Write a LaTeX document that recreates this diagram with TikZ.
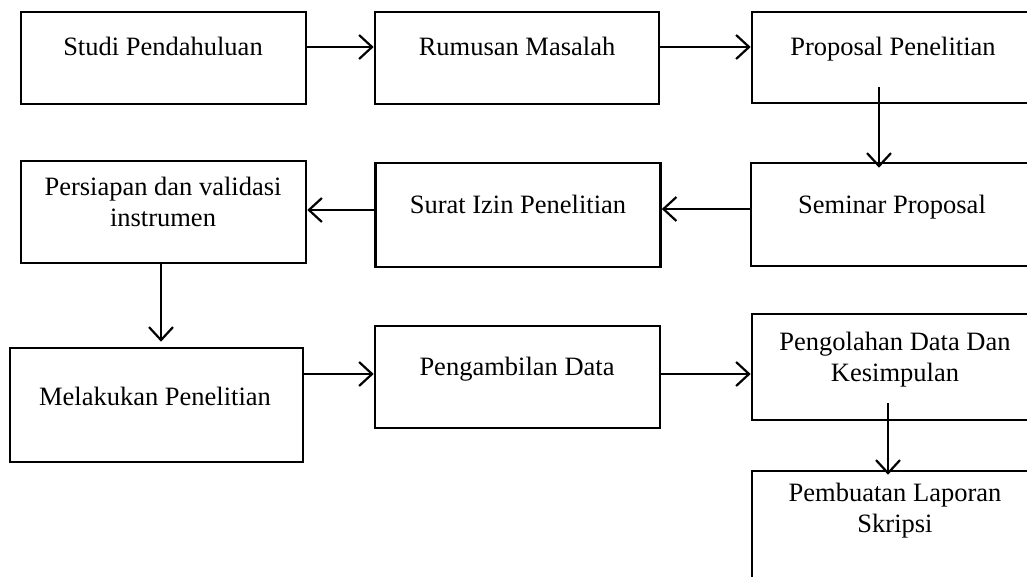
\documentclass[tikz,border=0pt]{standalone}
\usepackage{fontspec}
\setmainfont{Liberation Serif}
\usetikzlibrary{arrows.meta}
\tikzset{
  flow/.style={-{Straight Barb[length=13pt,width=24pt]},line width=2.2pt,draw=black},
  stepbox/.style={draw=black,line width=2.6pt,inner sep=0pt},
  steptext/.style={font=\fontsize{26.5}{30.5}\selectfont,align=center,inner sep=0pt,anchor=base}
}
\begin{document}
\begin{tikzpicture}[x=1pt,y=-1pt]
  \path[use as bounding box,fill=white] (0,0) rectangle (1027,576);
  \clip (0,0) rectangle (1027,576);
  % boxes
  \node[stepbox,minimum width=285pt,minimum height=92pt] (studi) at (163.5,58) {};
  \node[stepbox,minimum width=284pt,minimum height=92pt] (rumusan) at (517,58) {};
  \node[stepbox,minimum width=282pt,minimum height=91pt] (proposal) at (893,57.5) {};
  \node[stepbox,minimum width=283pt,minimum height=103pt] (seminar) at (892.5,214.5) {};
  \node[stepbox,minimum width=285pt,minimum height=104pt] (surat) at (518,215) {};
  \node[stepbox,minimum width=285pt,minimum height=102pt] (persiapan) at (163.5,212) {};
  \node[stepbox,minimum width=293pt,minimum height=114pt] (melakukan) at (156.5,405) {};
  \node[stepbox,minimum width=285pt,minimum height=102pt] (pengambilan) at (517.5,377) {};
  \node[stepbox,minimum width=282pt,minimum height=106pt] (pengolahan) at (893,367) {};
  \node[stepbox,minimum width=282pt,minimum height=140pt] (laporan) at (893,541) {};
  % texts (base = last line)
  \node[steptext] (tstudi) at (163,55) {Studi Pendahuluan};
  \node[steptext] (trumusan) at (517,55) {Rumusan Masalah};
  \node[steptext] (tproposal) at (893,55) {Proposal Penelitian};
  \node[steptext] (tseminar) at (892,213) {Seminar Proposal};
  \node[steptext] (tsurat) at (518,213) {Surat Izin Penelitian};
  \node[steptext] (tpersiapan) at (163,226) {Persiapan dan validasi\\instrumen};
  \node[steptext] (tmelakukan) at (155,405) {Melakukan Penelitian};
  \node[steptext] (tpengambilan) at (517,375) {Pengambilan Data};
  \node[steptext] (tpengolahan) at (895,381) {Pengolahan Data Dan\\Kesimpulan};
  \node[steptext] (tlaporan) at (895,532) {Pembuatan Laporan\\Skripsi};
  % arrows
  \draw[flow] ([yshift=11pt]studi.east) -- ([yshift=11pt]studi.east -| rumusan.west);
  \draw[flow] ([yshift=11pt]rumusan.east) -- ([yshift=11pt]rumusan.east -| proposal.west);
  \draw[flow,shorten >=-6pt] ([xshift=-14pt,yshift=17pt]proposal.south) -- ([xshift=-14pt]proposal.south |- seminar.north);
  \draw[flow] ([yshift=5.5pt]seminar.west) -- ([yshift=5.5pt]seminar.west -| surat.east);
  \draw[flow] ([yshift=5pt]surat.west) -- ([yshift=5pt]surat.west -| persiapan.east);
  \draw[flow,shorten >=5pt] ([xshift=-2.5pt]persiapan.south) -- ([xshift=-2.5pt]persiapan.south |- melakukan.north);
  \draw[flow] ([yshift=3pt]pengambilan.west -| melakukan.east) -- ([yshift=3pt]pengambilan.west);
  \draw[flow] ([yshift=3pt]pengambilan.east) -- ([yshift=3pt]pengambilan.east -| pengolahan.west);
  \draw[flow,shorten >=-5pt] ([xshift=-5pt,yshift=18pt]pengolahan.south) -- ([xshift=-5pt]pengolahan.south |- laporan.north);
\end{tikzpicture}
\end{document}
